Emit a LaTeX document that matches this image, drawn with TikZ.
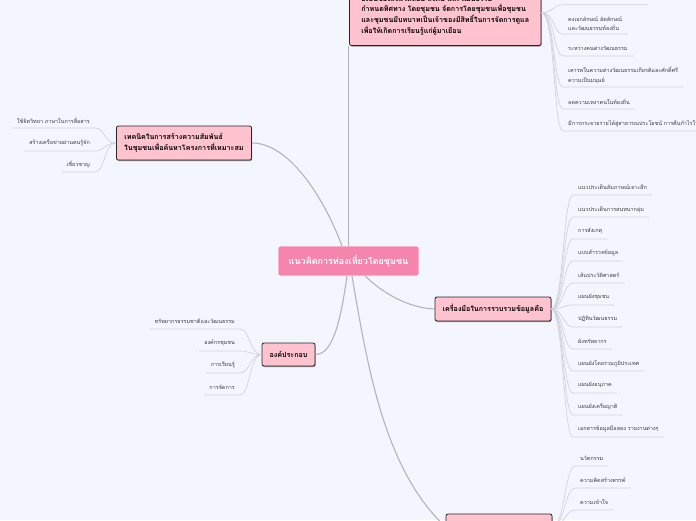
\documentclass[tikz,border=0pt]{standalone}
\usepackage{fontspec}
\usetikzlibrary{shadows}
\newfontfamily\thaifont[Script=Thai]{Loma}
\lineskiplimit=-100pt
\definecolor{pagebg}{HTML}{F3F6FF}
\definecolor{mainpink}{HTML}{F685AE}
\definecolor{boxpink}{HTML}{FFC2CF}
\definecolor{mainedge}{HTML}{B4B4B4}
\definecolor{leafedge}{HTML}{D2D3DB}
\definecolor{leaftext}{HTML}{3C3C44}
\tikzset{
    mainnode/.style={draw=white,line width=.8pt,fill=mainpink,rounded corners=2pt,text=white,
        minimum width=141,minimum height=30,inner sep=0pt,font=\thaifont\fontsize{9}{10}\selectfont\bfseries},
    boxnode/.style={draw=black!85,line width=.8pt,fill=boxpink,rounded corners=2pt,text=black,align=left,
        drop shadow={shadow xshift=.6pt,shadow yshift=-1pt,fill=black!55,opacity=.8},
        inner sep=0pt,font=\thaifont\fontsize{7.15}{10.7}\selectfont\bfseries},
    leafnode/.style={inner xsep=5pt,inner ysep=3pt,minimum height=15,align=left,text=leaftext,
        font=\thaifont\fontsize{5.45}{9.5}\selectfont},
    mainline/.style={draw=mainedge,line width=1.1pt},
    leafline/.style={draw=leafedge,line width=.7pt}
}
\begin{document}
\begin{tikzpicture}[x=1pt,y=-1pt]
    \useasboundingbox (0,0) rectangle (696,520);
    \clip (0,0) rectangle (696,520);
    \fill[pagebg] (0,0) rectangle (696,520);

    % center and its branches
    \node[mainnode] (center) at (348.5,261) {แนวคิดการท่องเที่ยวโดยชุมชน};
    \node[boxnode,minimum width=191.5,minimum height=65.5,inner xsep=9pt] (meaning) at (445.25,12.75)
        {\mbox{}\\ยั่งยืนของสิ่งแวดล้อม สังคม และวัฒนธรรม\\กำหนดทิศทาง โดยชุมชน จัดการโดยชุมชนเพื่อชุมชน\\และชุมชนมีบทบาทเป็นเจ้าของมีสิทธิ์ในการจัดการดูแล\\เพื่อให้เกิดการเรียนรู้แก่ผู้มาเยือน};
    \node[boxnode,minimum width=134,minimum height=34,inner xsep=8pt] (technique) at (184,143)
        {เทคนิคในการสร้างความสัมพันธ์\\ในชุมชนเพื่อค้นหาโครงการที่เหมาะสม};
    \node[boxnode,minimum width=53,minimum height=23,align=center] (parts) at (288.5,354.5) {องค์ประกอบ};
    \node[boxnode,minimum width=116,minimum height=24,align=center] (tools) at (493,309) {เครื่องมือในการรวบรวมข้อมูลคือ};
    \node[boxnode,minimum width=106,minimum height=26] (skills) at (499,527) {};

    \draw[mainline] (center.north) -- (center.north |- meaning.south);
    \draw[mainline] (342,246) .. controls (325,200) and (290,143) .. (technique.east);
    \draw[mainline] (347,276) .. controls (342,310) and (335,355) .. (parts.east);
    \draw[mainline] (365,276) .. controls (385,295) and (410,308) .. (tools.west);
    \draw[mainline] (352,276) .. controls (368,370) and (385,470) .. (skills.west);

    % top right
    \node[leafnode,anchor=south west] (mean1) at (563,34) {คงเอกลักษณ์ อัตลักษณ์\\และวัฒนธรรมท้องถิ่น};
    \node[leafnode,anchor=south west] (mean2) at (563,56) {ระหว่างคนต่างวัฒนธรรม};
    \node[leafnode,anchor=south west] (mean3) at (563,87) {เคารพในความต่างวัฒนธรรมเกียรติและศักดิ์ศรี\\ความเป็นมนุษย์};
    \node[leafnode,anchor=south west] (mean4) at (563,109) {ลดความเหงาคนในท้องถิ่น};
    \node[leafnode,anchor=south west] (mean5) at (563,131) {มีการกระจายรายได้สู่สาธารณประโยชน์ การคืนกำไรให้ชุมชน};
    \coordinate (mean0w) at (563,4.7);
    \coordinate (mean0e) at (648,4.7);
    \draw[leafline] (meaning.east) .. controls +(12,0) and +(-10,0) .. (mean0w) -- (mean0e);
    \foreach \leaf in {mean1,mean2,mean3,mean4,mean5}
        \draw[leafline] (meaning.east) .. controls +(14,0) and +(-10,0) .. (\leaf.south west) -- (\leaf.south east);

    % left
    \node[leafnode,anchor=south east] (tech1) at (95,128) {ใช้จิตวิทยา ภาษาในการสื่อสาร};
    \node[leafnode,anchor=south east] (tech2) at (95,151) {สร้างเครือข่ายผ่านคนรู้จัก};
    \node[leafnode,anchor=south east] (tech3) at (95,172) {เชี่ยวชาญ};
    \foreach \leaf in {tech1,tech2,tech3}
        \draw[leafline] (technique.west) .. controls +(-12,0) and +(10,0) .. (\leaf.south east) -- (\leaf.south west);

    % parts
    \node[leafnode,anchor=south east] (part1) at (240,329) {ทรัพยากรธรรมชาติและวัฒนธรรม};
    \node[leafnode,anchor=south east] (part2) at (240,351) {องค์กรชุมชน};
    \node[leafnode,anchor=south east] (part3) at (240,373) {การเรียนรู้};
    \node[leafnode,anchor=south east] (part4) at (240,395) {การจัดการ};
    \foreach \leaf in {part1,part2,part3,part4}
        \draw[leafline] (parts.west) .. controls +(-12,0) and +(10,0) .. (\leaf.south east) -- (\leaf.south west);

    % tools
    \foreach \leaf/\ypos/\txt in {
        tool1/195/แนวประเด็นสัมภาษณ์เจาะลึก,
        tool2/217/แนวประเด็นการสนทนากลุ่ม,
        tool3/239/การสังเกตุ,
        tool4/261/แบบสำรวจข้อมูล,
        tool5/283/เส้นประวัติศาสตร์,
        tool6/305/แผนผังชุมชน,
        tool7/327/ปฏิทินวัฒนธรรม,
        tool8/349/ผังทรัพยากร,
        tool9/371/แผนผังโดยรวมภูมิประเทศ,
        tool10/393/แผนผังอนุภาค,
        tool11/415/แผนผังเครือญาติ,
        tool12/437/เอกสารข้อมูลมือสอง รายงานต่างๆ}{
        \node[leafnode,anchor=south west] (\leaf) at (573,\ypos) {\txt};
        \draw[leafline] (tools.east) .. controls +(12,0) and +(-10,0) .. (\leaf.south west) -- (\leaf.south east);
    }

    % bottom
    \foreach \leaf/\ypos/\txt in {
        skill1/466/นวัตกรรม,
        skill2/488/ความคิดสร้างสรรค์,
        skill3/510/ความเข้าใจ}{
        \node[leafnode,anchor=south west] (\leaf) at (575,\ypos) {\txt};
        \draw[leafline] (skills.east) .. controls +(12,0) and +(-10,0) .. (\leaf.south west) -- (\leaf.south east);
    }
\end{tikzpicture}
\end{document}
